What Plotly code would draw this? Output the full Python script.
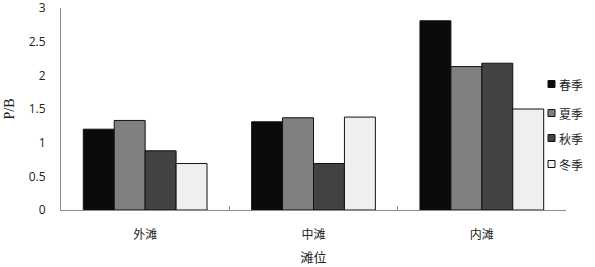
import plotly.graph_objects as go

categories = ["外滩", "中滩", "内滩"]
seasons = ["春季", "夏季", "秋季", "冬季"]
spring = [1.20, 1.31, 2.81]
summer = [1.33, 1.37, 2.13]
autumn = [0.88, 0.69, 2.18]
winter = [0.69, 1.38, 1.50]
series = [spring, summer, autumn, winter]
colors = ["#0b0b0b", "#808080", "#424242", "#efefef"]

cjk = "Noto Sans CJK SC"

fig = go.Figure()
for name, vals, col in zip(seasons, series, colors):
    fig.add_trace(go.Bar(
        x=categories, y=vals, name=name,
        marker=dict(color=col, line=dict(color="#111111", width=1)),
        showlegend=False,
    ))

# custom compact legend
leg_y = [84, 113, 138, 164]
H = 267.0
for name, col, yp in zip(seasons, colors, leg_y):
    fig.add_shape(type="rect", xref="paper", yref="paper",
                  x0=(548 - 61) / 505, x1=(555 - 61) / 505,
                  y0=(H - yp - 3.5 - 57) / 202, y1=(H - yp + 3.5 - 57) / 202,
                  fillcolor=col, line=dict(color="#111111", width=1))
    fig.add_annotation(xref="paper", yref="paper",
                       x=(557 - 61) / 505, y=(H - yp - 57) / 202,
                       xanchor="left", yanchor="middle", showarrow=False,
                       text=name, font=dict(family=cjk, size=12, color="#222222"))

fig.update_layout(
    width=595, height=267,
    margin=dict(l=61, r=29, t=8, b=57),
    paper_bgcolor="white", plot_bgcolor="white",
    barmode="group", bargap=0.265, bargroupgap=0,
    font=dict(family=cjk, color="#222222"),
)
fig.update_xaxes(
    automargin=False,
    showline=True, linecolor="#8c8c8c", linewidth=1,
    tickson="boundaries", ticks="inside", ticklen=4, tickcolor="#8c8c8c",
    tickfont=dict(family=cjk, size=12, color="#222222"),
    ticklabelstandoff=14,
    title=dict(text="滩位", font=dict(family=cjk, size=13, color="#222222"), standoff=11),
)
fig.update_yaxes(
    automargin=False,
    range=[0, 3], dtick=0.5, showgrid=False, zeroline=False,
    showline=True, linecolor="#8c8c8c", linewidth=1,
    ticks="", tickfont=dict(family="Open Sans", size=12, color="#222222"),
    ticklabelstandoff=12, ticklabeloverflow="allow",
    title=dict(text="P/B", font=dict(family="Liberation Serif", size=14, color="#222222"), standoff=10),
)
fig.write_html("out.html", post_script="document.body.style.margin='0';",
               config={"displayModeBar": False})
